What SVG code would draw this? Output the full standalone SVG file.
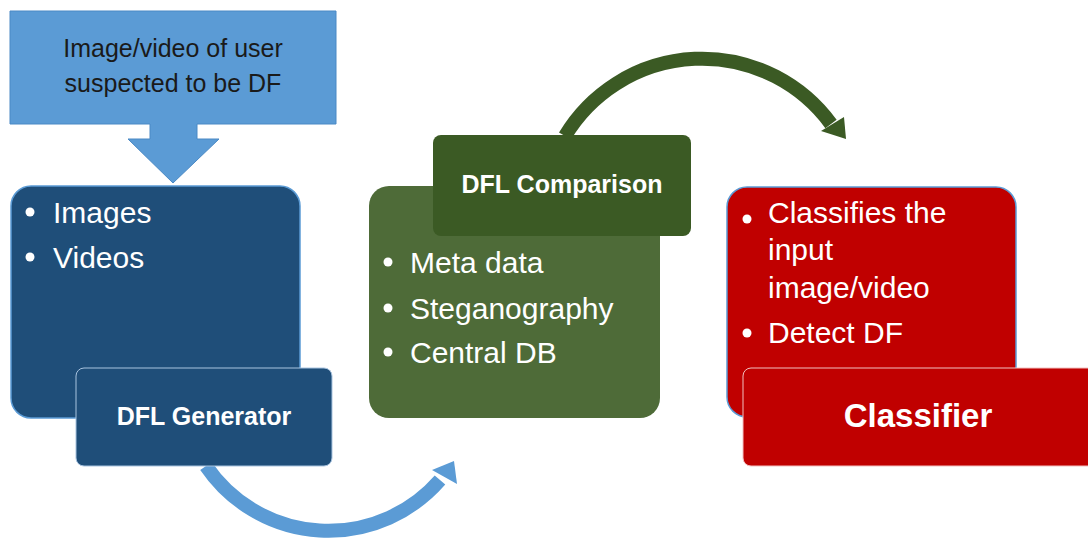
<svg xmlns="http://www.w3.org/2000/svg" width="1088" height="539" viewBox="0 0 1088 539">
<style>
.t{font-family:"Liberation Sans",Arial,sans-serif;fill:#fff}
.b{font-size:30px}
.h{font-size:25px;font-weight:bold}
.dot{fill:#fff}
</style>
<rect width="1088" height="539" fill="#fff"/>
<g id="connectors">
<path d="M206,466 A148 148 0 0 0 440,480" fill="none" stroke="#5B9BD5" stroke-width="14"/>
<polygon points="432,470 454,461 457,484" fill="#5B9BD5"/>
<path d="M565,136 A160 160 0 0 1 831,124" fill="none" stroke="#3B5A24" stroke-width="14"/>
<polygon points="844,117 821,131 846,139" fill="#3B5A24"/>
</g>
<g id="input">
<path d="M10,11 H336 V124 H197 V139 H219 L173,183 L128,139 H150 V124 H10 Z" fill="#5B9BD5" stroke="#4A89C5" stroke-width="1"/>
<text x="173" y="57" text-anchor="middle" font-family="'Liberation Sans',Arial,sans-serif" font-size="25" fill="#1a1a1a">Image/video of user</text>
<text x="173" y="92" text-anchor="middle" font-family="'Liberation Sans',Arial,sans-serif" font-size="25" fill="#1a1a1a">suspected to be DF</text>
</g>
<g id="generator-list">
<rect x="11" y="186" width="289" height="232" rx="20" fill="#1F4E79" stroke="#5B9BD5" stroke-width="1.5"/>
<circle class="dot" cx="30" cy="212" r="4.5"/>
<text class="t b" x="53" y="223">Images</text>
<circle class="dot" cx="30" cy="257" r="4.5"/>
<text class="t b" x="53" y="268">Videos</text>
</g>
<g id="generator">
<rect x="76" y="368" width="256" height="98" rx="8" fill="#1F4E79" stroke="#A9C4E0" stroke-width="1"/>
<text class="t h" x="204" y="425" text-anchor="middle">DFL Generator</text>
</g>
<g id="comparison-list">
<rect x="369" y="186" width="291" height="232" rx="20" fill="#4E6B38"/>
<circle class="dot" cx="388" cy="262" r="4.5"/>
<text class="t b" x="410" y="273">Meta data</text>
<circle class="dot" cx="388" cy="308" r="4.5"/>
<text class="t b" x="410" y="319">Steganography</text>
<circle class="dot" cx="388" cy="352" r="4.5"/>
<text class="t b" x="410" y="363">Central DB</text>
</g>
<g id="comparison">
<rect x="433" y="135" width="258" height="101" rx="8" fill="#3B5A24"/>
<text class="t h" x="562" y="193" text-anchor="middle">DFL Comparison</text>
</g>
<g id="classifier-list">
<rect x="727" y="187" width="289" height="230" rx="20" fill="#C00000" stroke="#5B9BD5" stroke-width="1.5"/>
<circle class="dot" cx="747" cy="219" r="4.5"/>
<text class="t b" x="768" y="223">Classifies the</text>
<text class="t b" x="768" y="260">input</text>
<text class="t b" x="768" y="298">image/video</text>
<circle class="dot" cx="747" cy="333" r="4.5"/>
<text class="t b" x="768" y="343">Detect DF</text>
</g>
<g id="classifier">
<rect x="743" y="368" width="355" height="98" rx="8" fill="#C00000" stroke="#F2C0C0" stroke-width="1"/>
<text class="t" x="918" y="427" text-anchor="middle" font-size="33" font-weight="bold">Classifier</text>
</g>
</svg>
